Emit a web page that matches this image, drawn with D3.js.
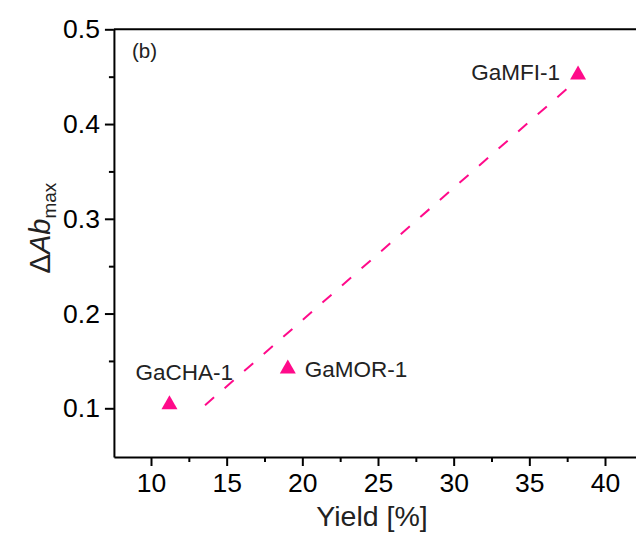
<!DOCTYPE html>
<html>
<head>
<meta charset="utf-8">
<script src="https://cdn.jsdelivr.net/npm/d3@7"></script>
<style>
  html, body { margin: 0; padding: 0; background: #fff; }
  svg { display: block; font-family: Arial, "Liberation Sans", sans-serif; }
</style>
</head>
<body>
<svg id="chart" width="636" height="533"></svg>
<script>
// ---- data ----
const names = ["GaCHA-1", "GaMOR-1", "GaMFI-1"];
const yieldPct = [11.22, 19.04, 38.22];
const deltaAbMax = [0.1063, 0.1442, 0.4545];
const fitX = [13.57, 38.14];
const fitY = [0.1032, 0.4463];
const xDomain = [7.55, 42.5];
const yDomain = [0.0486, 0.5];
const xMajorTicks = [10, 15, 20, 25, 30, 35, 40];
const xMinorTicks = [12.5, 17.5, 22.5, 27.5, 32.5, 37.5, 42.5];
const yMajorTicks = [0.1, 0.2, 0.3, 0.4, 0.5];
const yMinorTicks = [0.15, 0.25, 0.35, 0.45];
const panelLabel = "(b)";

// ---- layout ----
const svg = d3.select("#chart");
const color = "#ff0a8a";
const x = d3.scaleLinear().domain([10, 40]).range([151, 605]);
const y = d3.scaleLinear().domain([0.1, 0.5]).range([408.3, 29.3]);
const x0 = x(xDomain[0]), x1 = x(xDomain[1]);
const y0 = y(yDomain[0]), y1 = y(yDomain[1]);

// frame top & right
svg.append("line").attr("x1", x0).attr("x2", x1).attr("y1", y1).attr("y2", y1)
  .attr("stroke", "#000").attr("stroke-width", 2);
svg.append("line").attr("x1", x1).attr("x2", x1).attr("y1", y1).attr("y2", y0)
  .attr("stroke", "#000").attr("stroke-width", 2);

// x axis
const xs = x.copy().domain(xDomain).range([x0, x1]);
const gx = svg.append("g").attr("transform", `translate(0,${y0})`)
  .call(d3.axisBottom(xs).tickValues(xMajorTicks).tickFormat(d3.format("d"))
    .tickSize(9).tickPadding(7).tickSizeOuter(0));
svg.append("g").attr("transform", `translate(0,${y0})`)
  .call(d3.axisBottom(xs).tickValues(xMinorTicks).tickFormat("").tickSize(5).tickSizeOuter(0))
  .call(g => g.select(".domain").remove());

// y axis
const ys = y.copy().domain(yDomain).range([y0, y1]);
const gy = svg.append("g").attr("transform", `translate(${x0},0)`)
  .call(d3.axisLeft(ys).tickValues(yMajorTicks).tickFormat(d3.format(".1f"))
    .tickSize(9).tickPadding(5).tickSizeOuter(0));
svg.append("g").attr("transform", `translate(${x0},0)`)
  .call(d3.axisLeft(ys).tickValues(yMinorTicks).tickFormat("").tickSize(5).tickSizeOuter(0))
  .call(g => g.select(".domain").remove());

svg.selectAll(".domain").attr("stroke-width", 2).attr("stroke", "#000");
svg.selectAll(".tick line").attr("stroke-width", 2).attr("stroke", "#000");
gx.selectAll(".tick text").attr("font-size", 26.5).attr("fill", "#000")
  .attr("font-family", "Arial, 'Liberation Sans', sans-serif");
gy.selectAll(".tick text").attr("font-size", 26.5).attr("fill", "#000")
  .attr("font-family", "Arial, 'Liberation Sans', sans-serif");

// axis titles
svg.append("text").attr("x", 372).attr("y", 526).attr("text-anchor", "middle")
  .attr("font-size", 28.5).attr("fill", "#222").text("Yield [%]");

const yt = svg.append("text").attr("transform", "translate(50,228) rotate(-90)")
  .attr("text-anchor", "middle").attr("font-size", 29).attr("fill", "#222");
yt.append("tspan").attr("font-style", "normal").text("Δ");
yt.append("tspan").attr("font-style", "italic").text("Ab");
yt.append("tspan").attr("font-size", 19).attr("dy", 6).text("max");

// panel label
svg.append("text").attr("x", 132).attr("y", 58).attr("font-size", 20.5)
  .attr("fill", "#222").text(panelLabel);

// dashed fit line
svg.append("line")
  .attr("x1", x(fitX[0])).attr("y1", y(fitY[0]))
  .attr("x2", x(fitX[1])).attr("y2", y(fitY[1]))
  .attr("stroke", color).attr("stroke-width", 2)
  .attr("stroke-dasharray", "12,14");

// points
const pts = names.map((n, i) => ({ name: n, x: yieldPct[i], y: deltaAbMax[i] }));
svg.selectAll("path.pt").data(pts).join("path").attr("class", "pt")
  .attr("transform", d => `translate(${x(d.x)},${y(d.y)})`)
  .attr("d", "M0,-7L8,7L-8,7Z").attr("fill", color);

// point labels
const labelPlacement = [
  { dx: -34, dy: -22, anchor: "start" },
  { dx: 17, dy: 10.5, anchor: "start" },
  { dx: -18, dy: 8, anchor: "end" }
];
svg.selectAll("text.lbl").data(pts).join("text").attr("class", "lbl")
  .attr("x", (d, i) => x(d.x) + labelPlacement[i].dx)
  .attr("y", (d, i) => y(d.y) + labelPlacement[i].dy)
  .attr("text-anchor", (d, i) => labelPlacement[i].anchor)
  .attr("font-size", 22.5).attr("fill", "#222")
  .text(d => d.name);
</script>
</body>
</html>
